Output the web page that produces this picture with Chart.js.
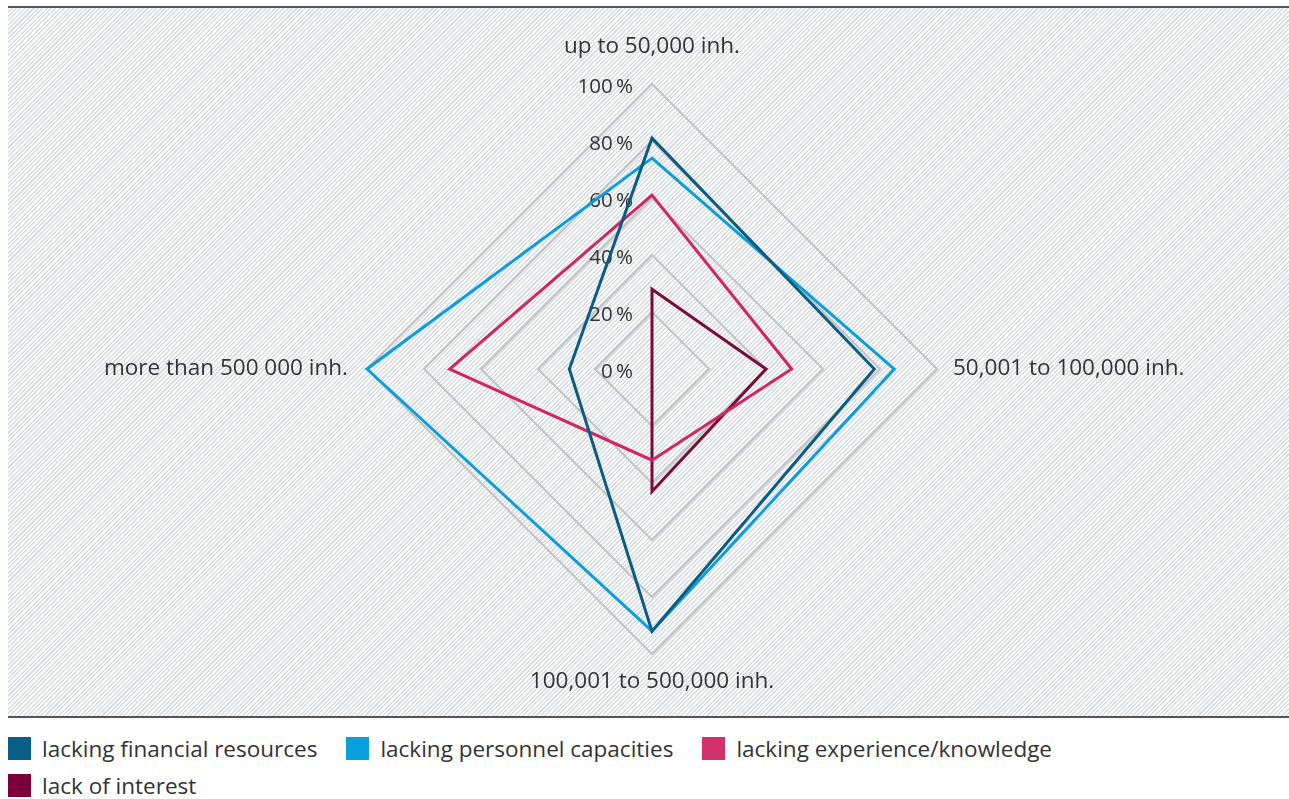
<!DOCTYPE html>
<html>
<head>
<meta charset="utf-8">
<script src="https://cdn.jsdelivr.net/npm/chart.js@4.4.1/dist/chart.umd.min.js"></script>
<style>
  body { margin: 0; background: #fff; font-family: 'Open Sans', sans-serif; }
  #wrap { position: relative; width: 1289px; height: 799px; overflow: hidden; }
  #panel {
    position: absolute; left: 8px; top: 6px; width: 1281px; height: 708px;
    border-top: 2px solid #555; border-bottom: 2px solid #555;
    background: repeating-linear-gradient(-45deg, #fff 0 1.6px, #d9dee3 1.6px 3.1px);
  }
  #chartbox { position: absolute; left: 0; top: 9px; width: 1289px; height: 707px; }
  #legend {
    position: absolute; left: 8px; top: 737px; width: 1100px;
    display: flex; flex-wrap: wrap; row-gap: 14px;
    font-size: 22.5px; color: #333;
  }
  .item { display: flex; align-items: center; margin-right: 29px; height: 23px; }
  .box { width: 23px; height: 23px; margin-right: 11px; }
</style>
</head>
<body>
<div id="wrap">
  <div id="panel"></div>
  <div id="chartbox"><canvas id="c"></canvas></div>
  <div id="legend"></div>
</div>
<script>
const CATEGORIES = ['up to 50,000 inh.', '50,001 to 100,000 inh.', '100,001 to 500,000 inh.', 'more than 500 000 inh.'];
const SERIES_NAMES = ['lacking financial resources', 'lacking personnel capacities', 'lacking experience/knowledge', 'lack of interest'];
const FINANCIAL = [81, 78, 92, 29];
const PERSONNEL = [74, 85, 92, 100];
const EXPERIENCE = [61, 49, 32, 71];
const INTEREST = [28, 40, 43, 0];
const TICK_LABELS = ['0\u2009%', '20\u2009%', '40\u2009%', '60\u2009%', '80\u2009%', '100\u2009%'];

const COLORS = ['#0b5c82', '#0a9fdc', '#d3255f', '#7a0a3a'];
const LEGEND_COLORS = ['#0a5f86', '#0aa0dc', '#d2306a', '#7b003a'];
const LABEL_PAD = [27, 16, 18, 19];

// tick labels sit left of the vertical axis, right aligned
const tickLabels = {
  id: 'tickLabels',
  beforeDatasetsDraw(chart) {
    const s = chart.scales.r;
    const ctx = chart.ctx;
    ctx.save();
    ctx.font = "400 20.5px 'Open Sans'";
    ctx.fillStyle = '#333';
    ctx.textAlign = 'right';
    ctx.textBaseline = 'middle';
    s.ticks.forEach((t, i) => {
      const y = s.yCenter - s.getDistanceFromCenterForValue(t.value);
      ctx.fillText(TICK_LABELS[i], s.xCenter - 19, y + 3);
    });
    ctx.restore();
  }
};

const series = [FINANCIAL, PERSONNEL, EXPERIENCE, INTEREST];

const chart = new Chart(document.getElementById('c'), {
  type: 'radar',
  data: {
    labels: CATEGORIES,
    datasets: series.map((d, i) => ({
      label: SERIES_NAMES[i],
      data: d,
      borderColor: COLORS[i],
      backgroundColor: 'transparent',
      borderWidth: 3,
      fill: false,
      pointRadius: 0,
      pointHoverRadius: 0,
      tension: 0
    }))
  },
  options: {
    responsive: true,
    maintainAspectRatio: false,
    animation: false,
    layout: { padding: { top: 24, bottom: 19, left: 15, right: 0 } },
    plugins: { legend: { display: false }, tooltip: { enabled: false } },
    scales: {
      r: {
        min: 0,
        max: 100,
        ticks: { display: false, stepSize: 20 },
        angleLines: { display: false },
        grid: { color: '#c3c3c3', lineWidth: 2 },
        pointLabels: {
          color: '#333',
          font: { family: "'Open Sans'", size: 22.5, weight: 400, lineHeight: '20px' },
          padding: (ctx) => LABEL_PAD[ctx.index]
        }
      }
    }
  },
  plugins: [tickLabels]
});

const legend = document.getElementById('legend');
SERIES_NAMES.forEach((name, i) => {
  const it = document.createElement('div');
  it.className = 'item';
  it.innerHTML = '<span class="box" style="background:' + LEGEND_COLORS[i] + '"></span><span>' + name + '</span>';
  legend.appendChild(it);
});
</script>
</body>
</html>
